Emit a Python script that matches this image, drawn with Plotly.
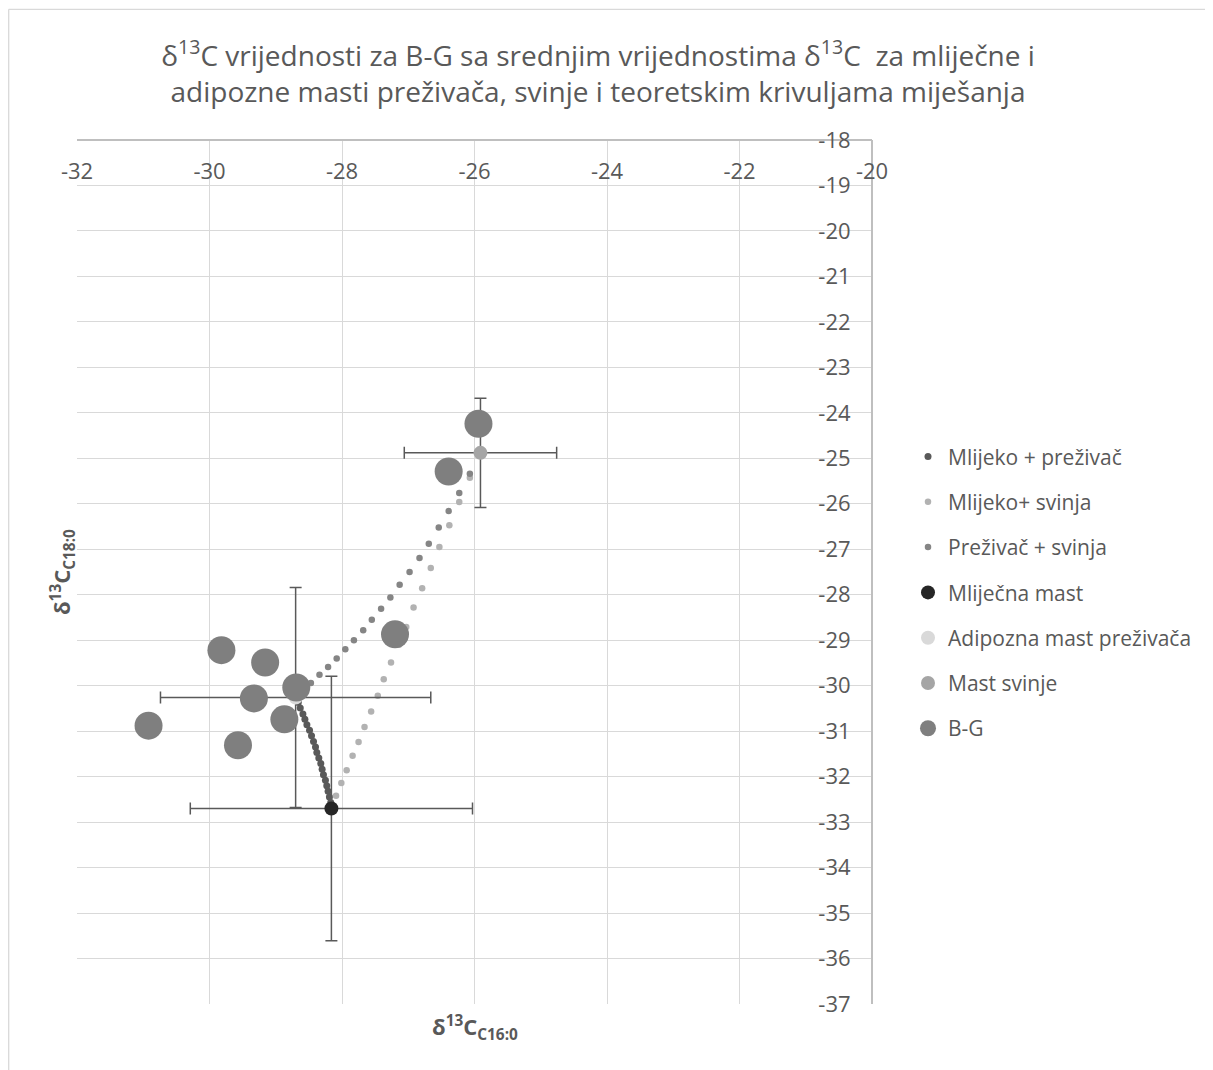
import plotly.graph_objects as go

# ---------------- data ----------------
bg_x = [-25.94, -26.39, -27.20, -29.82, -29.16, -28.69, -29.33, -28.87, -30.92, -29.57]
bg_y = [-24.24, -25.29, -28.87, -29.22, -29.49, -30.04, -30.28, -30.74, -30.88, -31.31]

milk_x = [-28.16]
milk_y = [-32.70]
milk_xerr = [2.13]
milk_yerr = [2.91]

adip_x = [-28.70]
adip_y = [-30.26]
adip_xerr = [2.04]
adip_yerr = [2.42]

pig_x = [-25.91]
pig_y = [-24.88]
pig_xerr = [1.15]
pig_yerr = [1.20]

# Mlijeko + preživač (milk -> ruminant adipose)
mp_x = [-28.16, -28.17, -28.19, -28.21, -28.23, -28.25, -28.28, -28.30, -28.32, -28.35,
        -28.38, -28.40, -28.43, -28.46, -28.49, -28.53, -28.56, -28.59, -28.63, -28.66, -28.70]
mp_y = [-32.70, -32.57, -32.45, -32.32, -32.20, -32.08, -31.96, -31.84, -31.71, -31.59,
        -31.47, -31.35, -31.23, -31.10, -30.98, -30.86, -30.74, -30.62, -30.49, -30.37, -30.25]

# Mlijeko + svinja (milk -> pig)
ms_x = [-28.16, -28.09, -28.01, -27.93, -27.84, -27.75, -27.66, -27.56, -27.46, -27.37,
        -27.26, -27.14, -27.03, -26.92, -26.79, -26.66, -26.53, -26.38, -26.23, -26.07, -25.91]
ms_y = [-32.70, -32.42, -32.14, -31.86, -31.54, -31.24, -30.91, -30.57, -30.22, -29.86,
        -29.49, -29.10, -28.71, -28.28, -27.86, -27.41, -26.95, -26.47, -25.96, -25.43, -24.88]

# Preživač + svinja (ruminant adipose -> pig)
ps_x = [-28.70, -28.59, -28.47, -28.34, -28.21, -28.08, -27.95, -27.82, -27.68, -27.55,
        -27.41, -27.27, -27.13, -26.98, -26.83, -26.69, -26.54, -26.39, -26.23, -26.07, -25.91]
ps_y = [-30.26, -30.08, -29.94, -29.76, -29.59, -29.40, -29.20, -29.00, -28.78, -28.55,
        -28.31, -28.06, -27.78, -27.50, -27.19, -26.88, -26.52, -26.16, -25.76, -25.34, -24.88]

x_range = [-32, -20]
y_range = [-37, -18]
x_tickvals = [-32, -30, -28, -26, -24, -22, -20]
x_ticktext = ["-32", "-30", "-28", "-26", "-24", "-22", "-20"]
y_tickvals = list(range(-37, -17))
y_ticktext = ["-37", "-36", "-35", "-34", "-33", "-32", "-31", "-30", "-29", "-28",
              "-27", "-26", "-25", "-24", "-23", "-22", "-21", "-20", "-19", "-18"]

title_text = ("δ<sup>13</sup>C vrijednosti za B-G sa srednjim vrijednostima δ<sup>13</sup>C  za mliječne i<br>"
              "adipozne masti preživača, svinje i teoretskim krivuljama miješanja")

# ---------------- figure ----------------
FONT = "Open Sans"
TXT = "#595959"
EB = dict(type="data", color="#595959", thickness=1.5, width=6, visible=True)

fig = go.Figure()

fig.add_trace(go.Scatter(x=mp_x, y=mp_y, mode="markers", name="Mlijeko + preživač",
                         marker=dict(size=7, color="#595959"), legendgroup="a"))
fig.add_trace(go.Scatter(x=ms_x, y=ms_y, mode="markers", name="Mlijeko+ svinja",
                         marker=dict(size=6.5, color="#b2b2b2"), legendgroup="b"))
fig.add_trace(go.Scatter(x=ps_x, y=ps_y, mode="markers", name="Preživač + svinja",
                         marker=dict(size=6.5, color="#858585"), legendgroup="c"))
fig.add_trace(go.Scatter(x=milk_x, y=milk_y, mode="markers", name="Mliječna mast",
                         marker=dict(size=14, color="#262626"), legendgroup="d",
                         error_x=dict(array=milk_xerr, **EB), error_y=dict(array=milk_yerr, **EB)))
fig.add_trace(go.Scatter(x=adip_x, y=adip_y, mode="markers", name="Adipozna mast preživača",
                         marker=dict(size=14, color="#d9d9d9"), legendgroup="e",
                         error_x=dict(array=adip_xerr, **EB), error_y=dict(array=adip_yerr, **EB)))
fig.add_trace(go.Scatter(x=pig_x, y=pig_y, mode="markers", name="Mast svinje",
                         marker=dict(size=14, color="#a5a5a5"), legendgroup="f",
                         error_x=dict(array=pig_xerr, **EB), error_y=dict(array=pig_yerr, **EB)))
fig.add_trace(go.Scatter(x=bg_x, y=bg_y, mode="markers", name="B-G",
                         marker=dict(size=28, color="#7f7f7f"), legendgroup="g"))

OFF = 8  # page body margin
W, H = 1213 - OFF, 1070 - OFF
L, R, T, B = 69, 341, 131.5, 66
pw, ph = W - L - R, H - T - B

def sx(px):  # screen x -> paper
    return (px - OFF - L) / pw

def sy(py):  # screen y -> paper
    return (H - B - (py - OFF)) / ph

fig.update_layout(
    width=W, height=H,
    margin=dict(l=L, r=R, t=T, b=B, autoexpand=False),
    paper_bgcolor="white", plot_bgcolor="white",
    font=dict(family=FONT, color=TXT, size=19),
    title=dict(text=title_text, x=(598 - OFF) / W, xanchor="center", xref="container",
               y=1 - (66 - OFF) / H, yanchor="top", yref="container",
               font=dict(family=FONT, size=28, color=TXT)),
    showlegend=True,
    legend=dict(x=sx(908), xanchor="left", y=sy(436), yanchor="top",
                font=dict(family=FONT, size=21, color=TXT),
                traceorder="grouped", tracegroupgap=15, itemsizing="trace",
                bgcolor="rgba(0,0,0,0)"),
    xaxis=dict(range=x_range, tickmode="array", tickvals=x_tickvals, ticktext=x_ticktext,
               showgrid=True, gridcolor="#d9d9d9", gridwidth=1.3,
               zeroline=False, showline=True, linecolor="#bfbfbf", linewidth=1.5,
               side="bottom", anchor="free", position=1, ticks="", ticklabelstandoff=12,
               tickfont=dict(family=FONT, size=22, color=TXT), automargin=False),
    yaxis=dict(range=y_range, tickmode="array", tickvals=y_tickvals, ticktext=y_ticktext,
               showgrid=True, gridcolor="#d9d9d9", gridwidth=1.3,
               zeroline=False, showline=True, linecolor="#bfbfbf", linewidth=2,
               side="left", anchor="free", position=1, ticks="", ticklabelstandoff=16,
               tickfont=dict(family=FONT, size=22, color=TXT), automargin=False),
    annotations=[
        dict(text="<b>δ<sup>13</sup>C<sub>C16:0</sub></b>", xref="paper", yref="paper",
             x=0.5, y=sy(1028), xanchor="center", yanchor="middle", showarrow=False,
             font=dict(family=FONT, size=22, color=TXT)),
        dict(text="<b>δ<sup>13</sup>C<sub>C18:0</sub></b>", xref="paper", yref="paper",
             x=sx(62), y=0.5, xanchor="center", yanchor="middle", showarrow=False,
             textangle=-90, font=dict(family=FONT, size=22, color=TXT)),
    ],
    shapes=[
        dict(type="line", xref="paper", yref="paper", x0=sx(8.7), x1=sx(8.7),
             y0=sy(8.7), y1=sy(1075), line=dict(color="#d9d9d9", width=1.3)),
        dict(type="line", xref="paper", yref="paper", x0=sx(8.7), x1=sx(1220),
             y0=sy(8.7), y1=sy(8.7), line=dict(color="#d9d9d9", width=1.3)),
    ],
)

fig.write_html("out.html")
